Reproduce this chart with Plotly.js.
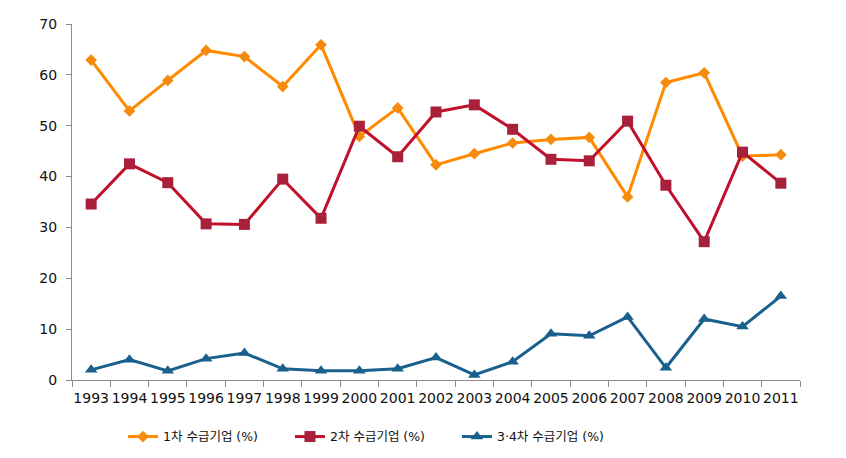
<!DOCTYPE html>
<html>
<head>
<meta charset="utf-8">
<script src="https://cdn.plot.ly/plotly-3.0.1.min.js"></script>
<style>
  html, body { margin: 0; padding: 0; background: #fff; }
  #chart { width: 846px; height: 458px; }
</style>
</head>
<body>
<div id="chart"></div>
<script>
// ── Data ──────────────────────────────────────────────────────
const YEARS = ["1993", "1994", "1995", "1996", "1997", "1998", "1999", "2000", "2001", "2002",
               "2003", "2004", "2005", "2006", "2007", "2008", "2009", "2010", "2011"];

const TIER1 = [62.9, 52.9, 58.9, 64.8, 63.6, 57.7, 65.9, 47.9, 53.5, 42.3,
               44.5, 46.6, 47.3, 47.7, 36.0, 58.5, 60.4, 44.0, 44.3];
const TIER2 = [34.6, 42.5, 38.8, 30.7, 30.6, 39.5, 31.8, 49.9, 43.9, 52.7,
               54.1, 49.3, 43.4, 43.1, 50.9, 38.3, 27.2, 44.8, 38.7];
const TIER34 = [2.0, 4.0, 1.8, 4.2, 5.3, 2.2, 1.8, 1.8, 2.2, 4.4,
                1.0, 3.6, 9.1, 8.7, 12.4, 2.4, 12.0, 10.5, 16.5];

const NAMES = ["1차 수급기업 (%)", "2차 수급기업 (%)", "3·4차 수급기업 (%)"];

const FONT = "DejaVu Sans, Verdana, 'Noto Sans CJK KR', sans-serif";
const AXIS_GREY = "#8c8c8c";

function series(name, y, lineColor, markerColor, symbol, size) {
  return {
    name, x: YEARS, y,
    type: "scatter", mode: "lines+markers",
    line: { color: lineColor, width: 3 },
    marker: { color: markerColor, symbol, size },
  };
}

const traces = [
  series(NAMES[0], TIER1,  "#ff8a00", "#f58a0c", "diamond",     9),
  series(NAMES[1], TIER2,  "#c0102a", "#a8203a", "square",      11),
  series(NAMES[2], TIER34, "#19608d", "#19608d", "triangle-up", 11),
];

const layout = {
  width: 846, height: 458,
  paper_bgcolor: "#fff", plot_bgcolor: "#fff",
  font: { family: FONT, size: 13, color: "#111" },
  margin: { t: 24, r: 46, b: 78, l: 72 },
  showlegend: true,
  xaxis: {
    type: "category",
    range: [-0.5, YEARS.length - 0.5],
    showgrid: false, zeroline: false,
    showline: true, linecolor: AXIS_GREY, linewidth: 1,
    ticks: "outside", tickson: "boundaries", ticklen: 6, tickcolor: AXIS_GREY,
    tickfont: { size: 14, family: FONT },
    ticklabelstandoff: 5,
    tickangle: 0,
    automargin: false,
  },
  yaxis: {
    range: [0, 70], dtick: 10,
    showgrid: false, zeroline: false,
    showline: true, linecolor: AXIS_GREY, linewidth: 1,
    ticks: "outside", ticklen: 5, tickcolor: AXIS_GREY,
    tickfont: { size: 14, family: FONT },
    ticklabelstandoff: 6,
    automargin: false,
  },
  legend: {
    orientation: "h",
    x: 0.07, xanchor: "left",
    yref: "container",
    y: 0.046, yanchor: "middle",
    entrywidth: 122, entrywidthmode: "pixels",
    font: { size: 12.5, family: FONT },
    itemwidth: 30,
  },
};

Plotly.newPlot("chart", traces, layout, { displayModeBar: false, staticPlot: true });
</script>
</body>
</html>
